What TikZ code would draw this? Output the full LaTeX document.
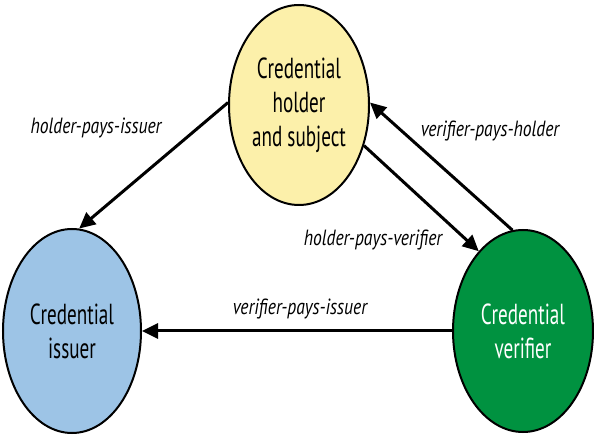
\documentclass[tikz,border=0pt]{standalone}
\usepackage{fontspec}
\setmainfont[FakeStretch=0.66]{PT Sans}
\newfontfamily\lblfont[FakeStretch=0.8]{PT Sans}
\usepackage{xcolor}
\usetikzlibrary{
arrows.meta,
shapes.geometric
}
\definecolor{holderyellow}{RGB}{252,240,170}
\definecolor{issuerblue}{RGB}{157,196,230}
\definecolor{verifiergreen}{RGB}{0,146,64}

\begin{document}
\begin{tikzpicture}[x=1pt, y=-1pt,
    >={Triangle[length=16pt,width=15pt]},
    party/.style={draw, ellipse, line width=2pt, inner sep=0pt, align=center,
      font=\fontsize{29}{34}\selectfont},
    pays/.style={->, line width=3pt},
    lbl/.style={font=\lblfont\fontsize{22}{26}\selectfont\itshape}]
  \useasboundingbox (0,0) rectangle (594,435);
  % the three parties
  \node[party, fill=holderyellow, minimum width=140pt, minimum height=200pt] (holder) at (299,105) {Credential\\holder\\and subject};
  \node[party, fill=issuerblue, minimum width=138pt, minimum height=204pt] (issuer) at (72,331) {Credential\\issuer};
  \node[party, fill=verifiergreen, text=white, minimum width=140pt, minimum height=202pt] (verifier) at (523,331) {Credential\\verifier};
  % who pays whom
  \draw[pays] (holder.178) -- (issuer.86);
  \draw[pays] (verifier.west) -- (issuer.east);
  \draw[pays] (holder.-32) -- (verifier.119);
  \draw[pays] (verifier.96) -- (holder.2);
  \node[lbl] (hpi) at (96,128) {holder-pays-issuer};
  \node[lbl] (vph) at (490,131) {verifier-pays-holder};
  \node[lbl] (hpv) at (373,240) {holder-pays-verifier};
  \node[lbl] (vpi) at (300,309) {verifier-pays-issuer};
\end{tikzpicture}
\end{document}
